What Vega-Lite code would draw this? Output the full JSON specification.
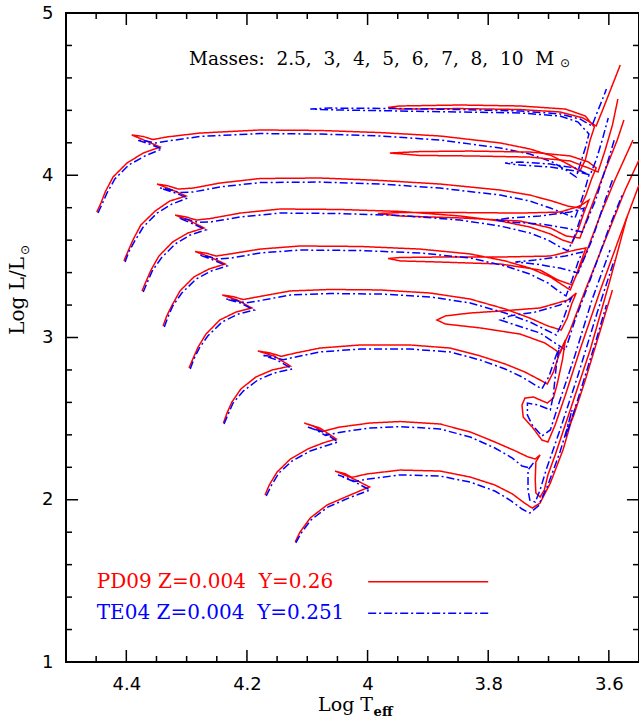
{
"$schema":"https://vega.github.io/schema/vega-lite/v6.json",
"width":573,"height":649,"autosize":"none",
"padding":{"left":66,"top":13,"right":0,"bottom":59},
"background":"white",
"config":{"view":{"stroke":"black","strokeWidth":2},"axis":{"grid":false,"domain":false,"labelFont":"DejaVu Sans","labelFontSize":18,"labelColor":"black","title":null,"labelOverlap":false,"labelFlush":false}},
"datasets":{
"tr":[
{"k":"R10","s":"PD09","i":0,"t":4.449,"l":3.773},{"k":"R10","s":"PD09","i":1,"t":4.442,"l":3.829},{"k":"R10","s":"PD09","i":2,"t":4.435,"l":3.897},{"k":"R10","s":"PD09","i":3,"t":4.422,"l":3.989},{"k":"R10","s":"PD09","i":4,"t":4.399,"l":4.075},{"k":"R10","s":"PD09","i":5,"t":4.372,"l":4.137},{"k":"R10","s":"PD09","i":6,"t":4.344,"l":4.174},{"k":"R10","s":"PD09","i":7,"t":4.367,"l":4.211},{"k":"R10","s":"PD09","i":8,"t":4.391,"l":4.248},{"k":"R10","s":"PD09","i":9,"t":4.372,"l":4.239},{"k":"R10","s":"PD09","i":10,"t":4.356,"l":4.220},{"k":"R10","s":"PD09","i":11,"t":4.333,"l":4.236},{"k":"R10","s":"PD09","i":12,"t":4.278,"l":4.260},{"k":"R10","s":"PD09","i":13,"t":4.178,"l":4.279},{"k":"R10","s":"PD09","i":14,"t":4.079,"l":4.276},{"k":"R10","s":"PD09","i":15,"t":3.979,"l":4.263},{"k":"R10","s":"PD09","i":16,"t":3.880,"l":4.242},{"k":"R10","s":"PD09","i":17,"t":3.780,"l":4.199},{"k":"R10","s":"PD09","i":18,"t":3.731,"l":4.162},{"k":"R10","s":"PD09","i":19,"t":3.694,"l":4.119},{"k":"R10","s":"PD09","i":20,"t":3.668,"l":4.069},{"k":"R10","s":"PD09","i":21,"t":3.648,"l":4.026},{"k":"R10","s":"PD09","i":22,"t":3.639,"l":4.094},{"k":"R10","s":"PD09","i":23,"t":3.631,"l":4.217},{"k":"R10","s":"PD09","i":24,"t":3.624,"l":4.297},{"k":"R10","s":"PD09","i":25,"t":3.639,"l":4.365},{"k":"R10","s":"PD09","i":26,"t":3.672,"l":4.408},{"k":"R10","s":"PD09","i":27,"t":3.747,"l":4.427},{"k":"R10","s":"PD09","i":28,"t":3.847,"l":4.433},{"k":"R10","s":"PD09","i":29,"t":3.946,"l":4.427},{"k":"R10","s":"PD09","i":30,"t":3.966,"l":4.418},{"k":"R10","s":"PD09","i":31,"t":3.946,"l":4.408},{"k":"R10","s":"PD09","i":32,"t":3.847,"l":4.411},{"k":"R10","s":"PD09","i":33,"t":3.747,"l":4.405},{"k":"R10","s":"PD09","i":34,"t":3.681,"l":4.390},{"k":"R10","s":"PD09","i":35,"t":3.643,"l":4.353},{"k":"R10","s":"PD09","i":36,"t":3.621,"l":4.304},{"k":"R10","s":"PD09","i":37,"t":3.609,"l":4.414},{"k":"R10","s":"PD09","i":38,"t":3.596,"l":4.538},{"k":"R10","s":"PD09","i":39,"t":3.581,"l":4.680},
{"k":"B10","s":"TE04","i":0,"t":4.447,"l":3.767},{"k":"B10","s":"TE04","i":1,"t":4.440,"l":3.823},{"k":"B10","s":"TE04","i":2,"t":4.432,"l":3.891},{"k":"B10","s":"TE04","i":3,"t":4.419,"l":3.977},{"k":"B10","s":"TE04","i":4,"t":4.396,"l":4.063},{"k":"B10","s":"TE04","i":5,"t":4.369,"l":4.119},{"k":"B10","s":"TE04","i":6,"t":4.341,"l":4.162},{"k":"B10","s":"TE04","i":7,"t":4.362,"l":4.193},{"k":"B10","s":"TE04","i":8,"t":4.382,"l":4.217},{"k":"B10","s":"TE04","i":9,"t":4.367,"l":4.211},{"k":"B10","s":"TE04","i":10,"t":4.352,"l":4.199},{"k":"B10","s":"TE04","i":11,"t":4.331,"l":4.211},{"k":"B10","s":"TE04","i":12,"t":4.278,"l":4.239},{"k":"B10","s":"TE04","i":13,"t":4.178,"l":4.257},{"k":"B10","s":"TE04","i":14,"t":4.079,"l":4.254},{"k":"B10","s":"TE04","i":15,"t":3.979,"l":4.242},{"k":"B10","s":"TE04","i":16,"t":3.880,"l":4.217},{"k":"B10","s":"TE04","i":17,"t":3.780,"l":4.168},{"k":"B10","s":"TE04","i":18,"t":3.731,"l":4.131},{"k":"B10","s":"TE04","i":19,"t":3.694,"l":4.082},{"k":"B10","s":"TE04","i":20,"t":3.671,"l":4.032},{"k":"B10","s":"TE04","i":21,"t":3.654,"l":3.989},{"k":"B10","s":"TE04","i":22,"t":3.648,"l":4.063},{"k":"B10","s":"TE04","i":23,"t":3.639,"l":4.168},{"k":"B10","s":"TE04","i":24,"t":3.633,"l":4.254},{"k":"B10","s":"TE04","i":25,"t":3.651,"l":4.328},{"k":"B10","s":"TE04","i":26,"t":3.681,"l":4.365},{"k":"B10","s":"TE04","i":27,"t":3.747,"l":4.384},{"k":"B10","s":"TE04","i":28,"t":3.847,"l":4.390},{"k":"B10","s":"TE04","i":29,"t":3.946,"l":4.396},{"k":"B10","s":"TE04","i":30,"t":4.046,"l":4.402},{"k":"B10","s":"TE04","i":31,"t":4.095,"l":4.408},{"k":"B10","s":"TE04","i":32,"t":4.062,"l":4.414},{"k":"B10","s":"TE04","i":33,"t":3.946,"l":4.411},{"k":"B10","s":"TE04","i":34,"t":3.847,"l":4.405},{"k":"B10","s":"TE04","i":35,"t":3.747,"l":4.396},{"k":"B10","s":"TE04","i":36,"t":3.681,"l":4.378},{"k":"B10","s":"TE04","i":37,"t":3.648,"l":4.347},{"k":"B10","s":"TE04","i":38,"t":3.628,"l":4.304},{"k":"B10","s":"TE04","i":39,"t":3.619,"l":4.390},{"k":"B10","s":"TE04","i":40,"t":3.611,"l":4.464},{"k":"B10","s":"TE04","i":41,"t":3.604,"l":4.532},
{"k":"R8","s":"PD09","i":0,"t":4.404,"l":3.472},{"k":"R8","s":"PD09","i":1,"t":4.397,"l":3.533},{"k":"R8","s":"PD09","i":2,"t":4.389,"l":3.601},{"k":"R8","s":"PD09","i":3,"t":4.376,"l":3.693},{"k":"R8","s":"PD09","i":4,"t":4.352,"l":3.780},{"k":"R8","s":"PD09","i":5,"t":4.328,"l":3.841},{"k":"R8","s":"PD09","i":6,"t":4.301,"l":3.872},{"k":"R8","s":"PD09","i":7,"t":4.324,"l":3.909},{"k":"R8","s":"PD09","i":8,"t":4.349,"l":3.946},{"k":"R8","s":"PD09","i":9,"t":4.331,"l":3.935},{"k":"R8","s":"PD09","i":10,"t":4.314,"l":3.915},{"k":"R8","s":"PD09","i":11,"t":4.289,"l":3.921},{"k":"R8","s":"PD09","i":12,"t":4.245,"l":3.952},{"k":"R8","s":"PD09","i":13,"t":4.178,"l":3.980},{"k":"R8","s":"PD09","i":14,"t":4.079,"l":3.983},{"k":"R8","s":"PD09","i":15,"t":3.979,"l":3.968},{"k":"R8","s":"PD09","i":16,"t":3.880,"l":3.946},{"k":"R8","s":"PD09","i":17,"t":3.780,"l":3.909},{"k":"R8","s":"PD09","i":18,"t":3.731,"l":3.878},{"k":"R8","s":"PD09","i":19,"t":3.694,"l":3.841},{"k":"R8","s":"PD09","i":20,"t":3.668,"l":3.810},{"k":"R8","s":"PD09","i":21,"t":3.648,"l":3.798},{"k":"R8","s":"PD09","i":22,"t":3.638,"l":3.878},{"k":"R8","s":"PD09","i":23,"t":3.628,"l":3.983},{"k":"R8","s":"PD09","i":24,"t":3.621,"l":4.045},{"k":"R8","s":"PD09","i":25,"t":3.634,"l":4.082},{"k":"R8","s":"PD09","i":26,"t":3.664,"l":4.119},{"k":"R8","s":"PD09","i":27,"t":3.731,"l":4.143},{"k":"R8","s":"PD09","i":28,"t":3.830,"l":4.149},{"k":"R8","s":"PD09","i":29,"t":3.913,"l":4.146},{"k":"R8","s":"PD09","i":30,"t":3.963,"l":4.137},{"k":"R8","s":"PD09","i":31,"t":3.913,"l":4.122},{"k":"R8","s":"PD09","i":32,"t":3.830,"l":4.119},{"k":"R8","s":"PD09","i":33,"t":3.731,"l":4.112},{"k":"R8","s":"PD09","i":34,"t":3.664,"l":4.088},{"k":"R8","s":"PD09","i":35,"t":3.634,"l":4.045},{"k":"R8","s":"PD09","i":36,"t":3.618,"l":4.020},{"k":"R8","s":"PD09","i":37,"t":3.606,"l":4.156},{"k":"R8","s":"PD09","i":38,"t":3.594,"l":4.310},{"k":"R8","s":"PD09","i":39,"t":3.585,"l":4.470},
{"k":"B8","s":"TE04","i":0,"t":4.402,"l":3.465},{"k":"B8","s":"TE04","i":1,"t":4.396,"l":3.527},{"k":"B8","s":"TE04","i":2,"t":4.386,"l":3.595},{"k":"B8","s":"TE04","i":3,"t":4.372,"l":3.681},{"k":"B8","s":"TE04","i":4,"t":4.349,"l":3.767},{"k":"B8","s":"TE04","i":5,"t":4.324,"l":3.823},{"k":"B8","s":"TE04","i":6,"t":4.298,"l":3.860},{"k":"B8","s":"TE04","i":7,"t":4.319,"l":3.891},{"k":"B8","s":"TE04","i":8,"t":4.344,"l":3.921},{"k":"B8","s":"TE04","i":9,"t":4.328,"l":3.912},{"k":"B8","s":"TE04","i":10,"t":4.311,"l":3.893},{"k":"B8","s":"TE04","i":11,"t":4.289,"l":3.897},{"k":"B8","s":"TE04","i":12,"t":4.245,"l":3.928},{"k":"B8","s":"TE04","i":13,"t":4.178,"l":3.955},{"k":"B8","s":"TE04","i":14,"t":4.079,"l":3.958},{"k":"B8","s":"TE04","i":15,"t":3.979,"l":3.946},{"k":"B8","s":"TE04","i":16,"t":3.880,"l":3.921},{"k":"B8","s":"TE04","i":17,"t":3.780,"l":3.878},{"k":"B8","s":"TE04","i":18,"t":3.731,"l":3.841},{"k":"B8","s":"TE04","i":19,"t":3.697,"l":3.798},{"k":"B8","s":"TE04","i":20,"t":3.672,"l":3.761},{"k":"B8","s":"TE04","i":21,"t":3.656,"l":3.737},{"k":"B8","s":"TE04","i":22,"t":3.648,"l":3.817},{"k":"B8","s":"TE04","i":23,"t":3.639,"l":3.921},{"k":"B8","s":"TE04","i":24,"t":3.633,"l":4.002},{"k":"B8","s":"TE04","i":25,"t":3.656,"l":4.045},{"k":"B8","s":"TE04","i":26,"t":3.697,"l":4.069},{"k":"B8","s":"TE04","i":27,"t":3.747,"l":4.082},{"k":"B8","s":"TE04","i":28,"t":3.772,"l":4.075},{"k":"B8","s":"TE04","i":29,"t":3.747,"l":4.063},{"k":"B8","s":"TE04","i":30,"t":3.697,"l":4.051},{"k":"B8","s":"TE04","i":31,"t":3.656,"l":4.026},{"k":"B8","s":"TE04","i":32,"t":3.631,"l":4.002},{"k":"B8","s":"TE04","i":33,"t":3.621,"l":4.094},{"k":"B8","s":"TE04","i":34,"t":3.611,"l":4.217},{"k":"B8","s":"TE04","i":35,"t":3.601,"l":4.353},
{"k":"R7","s":"PD09","i":0,"t":4.374,"l":3.287},{"k":"R7","s":"PD09","i":1,"t":4.367,"l":3.348},{"k":"R7","s":"PD09","i":2,"t":4.359,"l":3.416},{"k":"R7","s":"PD09","i":3,"t":4.346,"l":3.502},{"k":"R7","s":"PD09","i":4,"t":4.323,"l":3.589},{"k":"R7","s":"PD09","i":5,"t":4.298,"l":3.644},{"k":"R7","s":"PD09","i":6,"t":4.271,"l":3.675},{"k":"R7","s":"PD09","i":7,"t":4.294,"l":3.718},{"k":"R7","s":"PD09","i":8,"t":4.319,"l":3.755},{"k":"R7","s":"PD09","i":9,"t":4.301,"l":3.743},{"k":"R7","s":"PD09","i":10,"t":4.284,"l":3.724},{"k":"R7","s":"PD09","i":11,"t":4.261,"l":3.733},{"k":"R7","s":"PD09","i":12,"t":4.211,"l":3.767},{"k":"R7","s":"PD09","i":13,"t":4.145,"l":3.792},{"k":"R7","s":"PD09","i":14,"t":4.046,"l":3.789},{"k":"R7","s":"PD09","i":15,"t":3.946,"l":3.777},{"k":"R7","s":"PD09","i":16,"t":3.847,"l":3.749},{"k":"R7","s":"PD09","i":17,"t":3.780,"l":3.718},{"k":"R7","s":"PD09","i":18,"t":3.731,"l":3.681},{"k":"R7","s":"PD09","i":19,"t":3.697,"l":3.638},{"k":"R7","s":"PD09","i":20,"t":3.677,"l":3.601},{"k":"R7","s":"PD09","i":21,"t":3.661,"l":3.582},{"k":"R7","s":"PD09","i":22,"t":3.651,"l":3.663},{"k":"R7","s":"PD09","i":23,"t":3.641,"l":3.773},{"k":"R7","s":"PD09","i":24,"t":3.633,"l":3.847},{"k":"R7","s":"PD09","i":25,"t":3.648,"l":3.810},{"k":"R7","s":"PD09","i":26,"t":3.681,"l":3.773},{"k":"R7","s":"PD09","i":27,"t":3.747,"l":3.767},{"k":"R7","s":"PD09","i":28,"t":3.847,"l":3.770},{"k":"R7","s":"PD09","i":29,"t":3.946,"l":3.770},{"k":"R7","s":"PD09","i":30,"t":3.983,"l":3.764},{"k":"R7","s":"PD09","i":31,"t":3.946,"l":3.749},{"k":"R7","s":"PD09","i":32,"t":3.847,"l":3.737},{"k":"R7","s":"PD09","i":33,"t":3.747,"l":3.718},{"k":"R7","s":"PD09","i":34,"t":3.697,"l":3.675},{"k":"R7","s":"PD09","i":35,"t":3.671,"l":3.626},{"k":"R7","s":"PD09","i":36,"t":3.648,"l":3.613},{"k":"R7","s":"PD09","i":37,"t":3.631,"l":3.786},{"k":"R7","s":"PD09","i":38,"t":3.606,"l":4.032},{"k":"R7","s":"PD09","i":39,"t":3.586,"l":4.217},{"k":"R7","s":"PD09","i":40,"t":3.575,"l":4.341},
{"k":"B7","s":"TE04","i":0,"t":4.372,"l":3.280},{"k":"B7","s":"TE04","i":1,"t":4.365,"l":3.342},{"k":"B7","s":"TE04","i":2,"t":4.357,"l":3.410},{"k":"B7","s":"TE04","i":3,"t":4.342,"l":3.490},{"k":"B7","s":"TE04","i":4,"t":4.319,"l":3.576},{"k":"B7","s":"TE04","i":5,"t":4.294,"l":3.632},{"k":"B7","s":"TE04","i":6,"t":4.268,"l":3.663},{"k":"B7","s":"TE04","i":7,"t":4.289,"l":3.700},{"k":"B7","s":"TE04","i":8,"t":4.313,"l":3.737},{"k":"B7","s":"TE04","i":9,"t":4.298,"l":3.728},{"k":"B7","s":"TE04","i":10,"t":4.281,"l":3.710},{"k":"B7","s":"TE04","i":11,"t":4.260,"l":3.712},{"k":"B7","s":"TE04","i":12,"t":4.211,"l":3.743},{"k":"B7","s":"TE04","i":13,"t":4.145,"l":3.767},{"k":"B7","s":"TE04","i":14,"t":4.046,"l":3.764},{"k":"B7","s":"TE04","i":15,"t":3.946,"l":3.752},{"k":"B7","s":"TE04","i":16,"t":3.847,"l":3.724},{"k":"B7","s":"TE04","i":17,"t":3.780,"l":3.687},{"k":"B7","s":"TE04","i":18,"t":3.731,"l":3.644},{"k":"B7","s":"TE04","i":19,"t":3.701,"l":3.601},{"k":"B7","s":"TE04","i":20,"t":3.681,"l":3.558},{"k":"B7","s":"TE04","i":21,"t":3.668,"l":3.533},{"k":"B7","s":"TE04","i":22,"t":3.658,"l":3.613},{"k":"B7","s":"TE04","i":23,"t":3.648,"l":3.724},{"k":"B7","s":"TE04","i":24,"t":3.641,"l":3.798},{"k":"B7","s":"TE04","i":25,"t":3.664,"l":3.773},{"k":"B7","s":"TE04","i":26,"t":3.714,"l":3.749},{"k":"B7","s":"TE04","i":27,"t":3.764,"l":3.737},{"k":"B7","s":"TE04","i":28,"t":3.789,"l":3.724},{"k":"B7","s":"TE04","i":29,"t":3.764,"l":3.712},{"k":"B7","s":"TE04","i":30,"t":3.714,"l":3.700},{"k":"B7","s":"TE04","i":31,"t":3.672,"l":3.675},{"k":"B7","s":"TE04","i":32,"t":3.644,"l":3.650},{"k":"B7","s":"TE04","i":33,"t":3.622,"l":3.847},{"k":"B7","s":"TE04","i":34,"t":3.601,"l":4.094},{"k":"B7","s":"TE04","i":35,"t":3.591,"l":4.217},
{"k":"R6","s":"PD09","i":0,"t":4.339,"l":3.071},{"k":"R6","s":"PD09","i":1,"t":4.333,"l":3.133},{"k":"R6","s":"PD09","i":2,"t":4.324,"l":3.200},{"k":"R6","s":"PD09","i":3,"t":4.311,"l":3.287},{"k":"R6","s":"PD09","i":4,"t":4.288,"l":3.373},{"k":"R6","s":"PD09","i":5,"t":4.263,"l":3.422},{"k":"R6","s":"PD09","i":6,"t":4.236,"l":3.453},{"k":"R6","s":"PD09","i":7,"t":4.261,"l":3.496},{"k":"R6","s":"PD09","i":8,"t":4.286,"l":3.530},{"k":"R6","s":"PD09","i":9,"t":4.268,"l":3.520},{"k":"R6","s":"PD09","i":10,"t":4.251,"l":3.502},{"k":"R6","s":"PD09","i":11,"t":4.228,"l":3.515},{"k":"R6","s":"PD09","i":12,"t":4.178,"l":3.545},{"k":"R6","s":"PD09","i":13,"t":4.112,"l":3.564},{"k":"R6","s":"PD09","i":14,"t":4.012,"l":3.561},{"k":"R6","s":"PD09","i":15,"t":3.913,"l":3.545},{"k":"R6","s":"PD09","i":16,"t":3.830,"l":3.515},{"k":"R6","s":"PD09","i":17,"t":3.772,"l":3.472},{"k":"R6","s":"PD09","i":18,"t":3.731,"l":3.428},{"k":"R6","s":"PD09","i":19,"t":3.697,"l":3.373},{"k":"R6","s":"PD09","i":20,"t":3.677,"l":3.324},{"k":"R6","s":"PD09","i":21,"t":3.664,"l":3.293},{"k":"R6","s":"PD09","i":22,"t":3.654,"l":3.385},{"k":"R6","s":"PD09","i":23,"t":3.644,"l":3.490},{"k":"R6","s":"PD09","i":24,"t":3.638,"l":3.552},{"k":"R6","s":"PD09","i":25,"t":3.656,"l":3.539},{"k":"R6","s":"PD09","i":26,"t":3.697,"l":3.502},{"k":"R6","s":"PD09","i":27,"t":3.780,"l":3.496},{"k":"R6","s":"PD09","i":28,"t":3.880,"l":3.496},{"k":"R6","s":"PD09","i":29,"t":3.946,"l":3.493},{"k":"R6","s":"PD09","i":30,"t":3.966,"l":3.487},{"k":"R6","s":"PD09","i":31,"t":3.946,"l":3.472},{"k":"R6","s":"PD09","i":32,"t":3.880,"l":3.465},{"k":"R6","s":"PD09","i":33,"t":3.780,"l":3.453},{"k":"R6","s":"PD09","i":34,"t":3.714,"l":3.416},{"k":"R6","s":"PD09","i":35,"t":3.684,"l":3.354},{"k":"R6","s":"PD09","i":36,"t":3.661,"l":3.324},{"k":"R6","s":"PD09","i":37,"t":3.639,"l":3.509},{"k":"R6","s":"PD09","i":38,"t":3.614,"l":3.755},{"k":"R6","s":"PD09","i":39,"t":3.590,"l":3.971},{"k":"R6","s":"PD09","i":40,"t":3.560,"l":4.217},
{"k":"B6","s":"TE04","i":0,"t":4.337,"l":3.065},{"k":"B6","s":"TE04","i":1,"t":4.331,"l":3.126},{"k":"B6","s":"TE04","i":2,"t":4.323,"l":3.194},{"k":"B6","s":"TE04","i":3,"t":4.308,"l":3.274},{"k":"B6","s":"TE04","i":4,"t":4.284,"l":3.361},{"k":"B6","s":"TE04","i":5,"t":4.259,"l":3.410},{"k":"B6","s":"TE04","i":6,"t":4.233,"l":3.441},{"k":"B6","s":"TE04","i":7,"t":4.256,"l":3.478},{"k":"B6","s":"TE04","i":8,"t":4.279,"l":3.509},{"k":"B6","s":"TE04","i":9,"t":4.265,"l":3.500},{"k":"B6","s":"TE04","i":10,"t":4.248,"l":3.484},{"k":"B6","s":"TE04","i":11,"t":4.226,"l":3.490},{"k":"B6","s":"TE04","i":12,"t":4.178,"l":3.521},{"k":"B6","s":"TE04","i":13,"t":4.112,"l":3.539},{"k":"B6","s":"TE04","i":14,"t":4.012,"l":3.536},{"k":"B6","s":"TE04","i":15,"t":3.913,"l":3.521},{"k":"B6","s":"TE04","i":16,"t":3.830,"l":3.490},{"k":"B6","s":"TE04","i":17,"t":3.772,"l":3.441},{"k":"B6","s":"TE04","i":18,"t":3.731,"l":3.391},{"k":"B6","s":"TE04","i":19,"t":3.701,"l":3.336},{"k":"B6","s":"TE04","i":20,"t":3.684,"l":3.287},{"k":"B6","s":"TE04","i":21,"t":3.671,"l":3.256},{"k":"B6","s":"TE04","i":22,"t":3.661,"l":3.354},{"k":"B6","s":"TE04","i":23,"t":3.651,"l":3.465},{"k":"B6","s":"TE04","i":24,"t":3.644,"l":3.527},{"k":"B6","s":"TE04","i":25,"t":3.672,"l":3.502},{"k":"B6","s":"TE04","i":26,"t":3.722,"l":3.478},{"k":"B6","s":"TE04","i":27,"t":3.755,"l":3.465},{"k":"B6","s":"TE04","i":28,"t":3.722,"l":3.453},{"k":"B6","s":"TE04","i":29,"t":3.681,"l":3.428},{"k":"B6","s":"TE04","i":30,"t":3.651,"l":3.398},{"k":"B6","s":"TE04","i":31,"t":3.628,"l":3.601},{"k":"B6","s":"TE04","i":32,"t":3.606,"l":3.847},{"k":"B6","s":"TE04","i":33,"t":3.594,"l":3.971},
{"k":"R5","s":"PD09","i":0,"t":4.296,"l":2.812},{"k":"R5","s":"PD09","i":1,"t":4.289,"l":2.874},{"k":"R5","s":"PD09","i":2,"t":4.281,"l":2.941},{"k":"R5","s":"PD09","i":3,"t":4.268,"l":3.021},{"k":"R5","s":"PD09","i":4,"t":4.245,"l":3.108},{"k":"R5","s":"PD09","i":5,"t":4.218,"l":3.157},{"k":"R5","s":"PD09","i":6,"t":4.192,"l":3.182},{"k":"R5","s":"PD09","i":7,"t":4.216,"l":3.231},{"k":"R5","s":"PD09","i":8,"t":4.241,"l":3.262},{"k":"R5","s":"PD09","i":9,"t":4.223,"l":3.252},{"k":"R5","s":"PD09","i":10,"t":4.206,"l":3.234},{"k":"R5","s":"PD09","i":11,"t":4.183,"l":3.250},{"k":"R5","s":"PD09","i":12,"t":4.128,"l":3.287},{"k":"R5","s":"PD09","i":13,"t":4.062,"l":3.296},{"k":"R5","s":"PD09","i":14,"t":3.979,"l":3.293},{"k":"R5","s":"PD09","i":15,"t":3.896,"l":3.274},{"k":"R5","s":"PD09","i":16,"t":3.830,"l":3.237},{"k":"R5","s":"PD09","i":17,"t":3.772,"l":3.176},{"k":"R5","s":"PD09","i":18,"t":3.731,"l":3.120},{"k":"R5","s":"PD09","i":19,"t":3.701,"l":3.071},{"k":"R5","s":"PD09","i":20,"t":3.679,"l":3.046},{"k":"R5","s":"PD09","i":21,"t":3.669,"l":3.120},{"k":"R5","s":"PD09","i":22,"t":3.661,"l":3.213},{"k":"R5","s":"PD09","i":23,"t":3.654,"l":3.274},{"k":"R5","s":"PD09","i":24,"t":3.668,"l":3.231},{"k":"R5","s":"PD09","i":25,"t":3.714,"l":3.182},{"k":"R5","s":"PD09","i":26,"t":3.780,"l":3.163},{"k":"R5","s":"PD09","i":27,"t":3.830,"l":3.151},{"k":"R5","s":"PD09","i":28,"t":3.871,"l":3.133},{"k":"R5","s":"PD09","i":29,"t":3.885,"l":3.108},{"k":"R5","s":"PD09","i":30,"t":3.871,"l":3.083},{"k":"R5","s":"PD09","i":31,"t":3.813,"l":3.059},{"k":"R5","s":"PD09","i":32,"t":3.747,"l":3.021},{"k":"R5","s":"PD09","i":33,"t":3.706,"l":2.966},{"k":"R5","s":"PD09","i":34,"t":3.681,"l":2.904},{"k":"R5","s":"PD09","i":35,"t":3.664,"l":3.046},{"k":"R5","s":"PD09","i":36,"t":3.639,"l":3.293},{"k":"R5","s":"PD09","i":37,"t":3.606,"l":3.601},{"k":"R5","s":"PD09","i":38,"t":3.573,"l":3.909},{"k":"R5","s":"PD09","i":39,"t":3.550,"l":4.094},
{"k":"B5","s":"TE04","i":0,"t":4.294,"l":2.806},{"k":"B5","s":"TE04","i":1,"t":4.288,"l":2.867},{"k":"B5","s":"TE04","i":2,"t":4.279,"l":2.935},{"k":"B5","s":"TE04","i":3,"t":4.265,"l":3.009},{"k":"B5","s":"TE04","i":4,"t":4.241,"l":3.096},{"k":"B5","s":"TE04","i":5,"t":4.214,"l":3.145},{"k":"B5","s":"TE04","i":6,"t":4.188,"l":3.169},{"k":"B5","s":"TE04","i":7,"t":4.211,"l":3.213},{"k":"B5","s":"TE04","i":8,"t":4.235,"l":3.237},{"k":"B5","s":"TE04","i":9,"t":4.220,"l":3.230},{"k":"B5","s":"TE04","i":10,"t":4.203,"l":3.213},{"k":"B5","s":"TE04","i":11,"t":4.182,"l":3.225},{"k":"B5","s":"TE04","i":12,"t":4.128,"l":3.262},{"k":"B5","s":"TE04","i":13,"t":4.062,"l":3.271},{"k":"B5","s":"TE04","i":14,"t":3.979,"l":3.268},{"k":"B5","s":"TE04","i":15,"t":3.896,"l":3.250},{"k":"B5","s":"TE04","i":16,"t":3.830,"l":3.213},{"k":"B5","s":"TE04","i":17,"t":3.772,"l":3.151},{"k":"B5","s":"TE04","i":18,"t":3.731,"l":3.096},{"k":"B5","s":"TE04","i":19,"t":3.704,"l":3.046},{"k":"B5","s":"TE04","i":20,"t":3.687,"l":3.015},{"k":"B5","s":"TE04","i":21,"t":3.677,"l":3.096},{"k":"B5","s":"TE04","i":22,"t":3.669,"l":3.182},{"k":"B5","s":"TE04","i":23,"t":3.662,"l":3.243},{"k":"B5","s":"TE04","i":24,"t":3.681,"l":3.200},{"k":"B5","s":"TE04","i":25,"t":3.722,"l":3.157},{"k":"B5","s":"TE04","i":26,"t":3.764,"l":3.133},{"k":"B5","s":"TE04","i":27,"t":3.780,"l":3.108},{"k":"B5","s":"TE04","i":28,"t":3.755,"l":3.077},{"k":"B5","s":"TE04","i":29,"t":3.714,"l":3.028},{"k":"B5","s":"TE04","i":30,"t":3.689,"l":2.966},{"k":"B5","s":"TE04","i":31,"t":3.672,"l":2.923},{"k":"B5","s":"TE04","i":32,"t":3.656,"l":3.108},{"k":"B5","s":"TE04","i":33,"t":3.631,"l":3.354},{"k":"B5","s":"TE04","i":34,"t":3.601,"l":3.663},{"k":"B5","s":"TE04","i":35,"t":3.578,"l":3.878},
{"k":"R4","s":"PD09","i":0,"t":4.239,"l":2.473},{"k":"R4","s":"PD09","i":1,"t":4.233,"l":2.535},{"k":"R4","s":"PD09","i":2,"t":4.225,"l":2.602},{"k":"R4","s":"PD09","i":3,"t":4.210,"l":2.683},{"k":"R4","s":"PD09","i":4,"t":4.185,"l":2.757},{"k":"R4","s":"PD09","i":5,"t":4.158,"l":2.800},{"k":"R4","s":"PD09","i":6,"t":4.128,"l":2.824},{"k":"R4","s":"PD09","i":7,"t":4.155,"l":2.886},{"k":"R4","s":"PD09","i":8,"t":4.182,"l":2.917},{"k":"R4","s":"PD09","i":9,"t":4.162,"l":2.905},{"k":"R4","s":"PD09","i":10,"t":4.143,"l":2.884},{"k":"R4","s":"PD09","i":11,"t":4.120,"l":2.904},{"k":"R4","s":"PD09","i":12,"t":4.079,"l":2.935},{"k":"R4","s":"PD09","i":13,"t":4.012,"l":2.954},{"k":"R4","s":"PD09","i":14,"t":3.930,"l":2.954},{"k":"R4","s":"PD09","i":15,"t":3.863,"l":2.935},{"k":"R4","s":"PD09","i":16,"t":3.813,"l":2.886},{"k":"R4","s":"PD09","i":17,"t":3.772,"l":2.837},{"k":"R4","s":"PD09","i":18,"t":3.739,"l":2.787},{"k":"R4","s":"PD09","i":19,"t":3.714,"l":2.738},{"k":"R4","s":"PD09","i":20,"t":3.702,"l":2.713},{"k":"R4","s":"PD09","i":21,"t":3.692,"l":2.787},{"k":"R4","s":"PD09","i":22,"t":3.681,"l":2.911},{"k":"R4","s":"PD09","i":23,"t":3.672,"l":2.985},{"k":"R4","s":"PD09","i":24,"t":3.677,"l":2.861},{"k":"R4","s":"PD09","i":25,"t":3.686,"l":2.707},{"k":"R4","s":"PD09","i":26,"t":3.692,"l":2.627},{"k":"R4","s":"PD09","i":27,"t":3.702,"l":2.596},{"k":"R4","s":"PD09","i":28,"t":3.725,"l":2.633},{"k":"R4","s":"PD09","i":29,"t":3.739,"l":2.627},{"k":"R4","s":"PD09","i":30,"t":3.744,"l":2.584},{"k":"R4","s":"PD09","i":31,"t":3.742,"l":2.510},{"k":"R4","s":"PD09","i":32,"t":3.727,"l":2.448},{"k":"R4","s":"PD09","i":33,"t":3.711,"l":2.368},{"k":"R4","s":"PD09","i":34,"t":3.701,"l":2.356},{"k":"R4","s":"PD09","i":35,"t":3.689,"l":2.461},{"k":"R4","s":"PD09","i":36,"t":3.672,"l":2.646},{"k":"R4","s":"PD09","i":37,"t":3.648,"l":2.923},{"k":"R4","s":"PD09","i":38,"t":3.614,"l":3.293},{"k":"R4","s":"PD09","i":39,"t":3.581,"l":3.632},{"k":"R4","s":"PD09","i":40,"t":3.550,"l":3.940},
{"k":"B4","s":"TE04","i":0,"t":4.238,"l":2.467},{"k":"B4","s":"TE04","i":1,"t":4.231,"l":2.529},{"k":"B4","s":"TE04","i":2,"t":4.223,"l":2.596},{"k":"B4","s":"TE04","i":3,"t":4.206,"l":2.670},{"k":"B4","s":"TE04","i":4,"t":4.182,"l":2.738},{"k":"B4","s":"TE04","i":5,"t":4.155,"l":2.781},{"k":"B4","s":"TE04","i":6,"t":4.125,"l":2.806},{"k":"B4","s":"TE04","i":7,"t":4.150,"l":2.861},{"k":"B4","s":"TE04","i":8,"t":4.175,"l":2.892},{"k":"B4","s":"TE04","i":9,"t":4.158,"l":2.882},{"k":"B4","s":"TE04","i":10,"t":4.140,"l":2.863},{"k":"B4","s":"TE04","i":11,"t":4.119,"l":2.880},{"k":"B4","s":"TE04","i":12,"t":4.079,"l":2.911},{"k":"B4","s":"TE04","i":13,"t":4.012,"l":2.929},{"k":"B4","s":"TE04","i":14,"t":3.930,"l":2.929},{"k":"B4","s":"TE04","i":15,"t":3.863,"l":2.911},{"k":"B4","s":"TE04","i":16,"t":3.813,"l":2.861},{"k":"B4","s":"TE04","i":17,"t":3.772,"l":2.806},{"k":"B4","s":"TE04","i":18,"t":3.744,"l":2.757},{"k":"B4","s":"TE04","i":19,"t":3.722,"l":2.707},{"k":"B4","s":"TE04","i":20,"t":3.711,"l":2.683},{"k":"B4","s":"TE04","i":21,"t":3.699,"l":2.763},{"k":"B4","s":"TE04","i":22,"t":3.689,"l":2.874},{"k":"B4","s":"TE04","i":23,"t":3.682,"l":2.941},{"k":"B4","s":"TE04","i":24,"t":3.687,"l":2.830},{"k":"B4","s":"TE04","i":25,"t":3.692,"l":2.646},{"k":"B4","s":"TE04","i":26,"t":3.697,"l":2.553},{"k":"B4","s":"TE04","i":27,"t":3.717,"l":2.584},{"k":"B4","s":"TE04","i":28,"t":3.735,"l":2.596},{"k":"B4","s":"TE04","i":29,"t":3.735,"l":2.522},{"k":"B4","s":"TE04","i":30,"t":3.727,"l":2.461},{"k":"B4","s":"TE04","i":31,"t":3.711,"l":2.393},{"k":"B4","s":"TE04","i":32,"t":3.697,"l":2.430},{"k":"B4","s":"TE04","i":33,"t":3.681,"l":2.615},{"k":"B4","s":"TE04","i":34,"t":3.656,"l":2.892},{"k":"B4","s":"TE04","i":35,"t":3.628,"l":3.231},{"k":"B4","s":"TE04","i":36,"t":3.598,"l":3.539},
{"k":"R3","s":"PD09","i":0,"t":4.170,"l":2.029},{"k":"R3","s":"PD09","i":1,"t":4.163,"l":2.091},{"k":"R3","s":"PD09","i":2,"t":4.150,"l":2.171},{"k":"R3","s":"PD09","i":3,"t":4.128,"l":2.251},{"k":"R3","s":"PD09","i":4,"t":4.099,"l":2.313},{"k":"R3","s":"PD09","i":5,"t":4.074,"l":2.350},{"k":"R3","s":"PD09","i":6,"t":4.052,"l":2.375},{"k":"R3","s":"PD09","i":7,"t":4.079,"l":2.442},{"k":"R3","s":"PD09","i":8,"t":4.105,"l":2.473},{"k":"R3","s":"PD09","i":9,"t":4.089,"l":2.452},{"k":"R3","s":"PD09","i":10,"t":4.075,"l":2.421},{"k":"R3","s":"PD09","i":11,"t":4.046,"l":2.448},{"k":"R3","s":"PD09","i":12,"t":3.996,"l":2.473},{"k":"R3","s":"PD09","i":13,"t":3.946,"l":2.482},{"k":"R3","s":"PD09","i":14,"t":3.880,"l":2.467},{"k":"R3","s":"PD09","i":15,"t":3.830,"l":2.418},{"k":"R3","s":"PD09","i":16,"t":3.789,"l":2.356},{"k":"R3","s":"PD09","i":17,"t":3.755,"l":2.301},{"k":"R3","s":"PD09","i":18,"t":3.734,"l":2.264},{"k":"R3","s":"PD09","i":19,"t":3.722,"l":2.251},{"k":"R3","s":"PD09","i":20,"t":3.714,"l":2.276},{"k":"R3","s":"PD09","i":21,"t":3.721,"l":2.233},{"k":"R3","s":"PD09","i":22,"t":3.722,"l":2.122},{"k":"R3","s":"PD09","i":23,"t":3.721,"l":2.042},{"k":"R3","s":"PD09","i":24,"t":3.714,"l":2.017},{"k":"R3","s":"PD09","i":25,"t":3.707,"l":2.060},{"k":"R3","s":"PD09","i":26,"t":3.701,"l":2.153},{"k":"R3","s":"PD09","i":27,"t":3.689,"l":2.276},{"k":"R3","s":"PD09","i":28,"t":3.664,"l":2.553},{"k":"R3","s":"PD09","i":29,"t":3.631,"l":2.923},{"k":"R3","s":"PD09","i":30,"t":3.598,"l":3.354},{"k":"R3","s":"PD09","i":31,"t":3.570,"l":3.743},
{"k":"B3","s":"TE04","i":0,"t":4.168,"l":2.023},{"k":"B3","s":"TE04","i":1,"t":4.160,"l":2.085},{"k":"B3","s":"TE04","i":2,"t":4.147,"l":2.165},{"k":"B3","s":"TE04","i":3,"t":4.125,"l":2.239},{"k":"B3","s":"TE04","i":4,"t":4.095,"l":2.301},{"k":"B3","s":"TE04","i":5,"t":4.070,"l":2.331},{"k":"B3","s":"TE04","i":6,"t":4.049,"l":2.356},{"k":"B3","s":"TE04","i":7,"t":4.074,"l":2.418},{"k":"B3","s":"TE04","i":8,"t":4.099,"l":2.448},{"k":"B3","s":"TE04","i":9,"t":4.084,"l":2.428},{"k":"B3","s":"TE04","i":10,"t":4.070,"l":2.397},{"k":"B3","s":"TE04","i":11,"t":4.042,"l":2.418},{"k":"B3","s":"TE04","i":12,"t":3.996,"l":2.442},{"k":"B3","s":"TE04","i":13,"t":3.946,"l":2.451},{"k":"B3","s":"TE04","i":14,"t":3.880,"l":2.436},{"k":"B3","s":"TE04","i":15,"t":3.830,"l":2.387},{"k":"B3","s":"TE04","i":16,"t":3.789,"l":2.319},{"k":"B3","s":"TE04","i":17,"t":3.760,"l":2.257},{"k":"B3","s":"TE04","i":18,"t":3.744,"l":2.208},{"k":"B3","s":"TE04","i":19,"t":3.731,"l":2.196},{"k":"B3","s":"TE04","i":20,"t":3.725,"l":2.227},{"k":"B3","s":"TE04","i":21,"t":3.734,"l":2.183},{"k":"B3","s":"TE04","i":22,"t":3.734,"l":2.060},{"k":"B3","s":"TE04","i":23,"t":3.731,"l":1.998},{"k":"B3","s":"TE04","i":24,"t":3.722,"l":1.986},{"k":"B3","s":"TE04","i":25,"t":3.714,"l":2.060},{"k":"B3","s":"TE04","i":26,"t":3.704,"l":2.183},{"k":"B3","s":"TE04","i":27,"t":3.681,"l":2.430},{"k":"B3","s":"TE04","i":28,"t":3.651,"l":2.769},{"k":"B3","s":"TE04","i":29,"t":3.618,"l":3.169},{"k":"B3","s":"TE04","i":30,"t":3.591,"l":3.478},
{"k":"R25","s":"PD09","i":0,"t":4.120,"l":1.740},{"k":"R25","s":"PD09","i":1,"t":4.112,"l":1.801},{"k":"R25","s":"PD09","i":2,"t":4.095,"l":1.888},{"k":"R25","s":"PD09","i":3,"t":4.067,"l":1.968},{"k":"R25","s":"PD09","i":4,"t":4.029,"l":2.029},{"k":"R25","s":"PD09","i":5,"t":3.997,"l":2.079},{"k":"R25","s":"PD09","i":6,"t":4.026,"l":2.134},{"k":"R25","s":"PD09","i":7,"t":4.054,"l":2.177},{"k":"R25","s":"PD09","i":8,"t":4.037,"l":2.160},{"k":"R25","s":"PD09","i":9,"t":4.026,"l":2.138},{"k":"R25","s":"PD09","i":10,"t":4.001,"l":2.159},{"k":"R25","s":"PD09","i":11,"t":3.946,"l":2.183},{"k":"R25","s":"PD09","i":12,"t":3.880,"l":2.177},{"k":"R25","s":"PD09","i":13,"t":3.830,"l":2.140},{"k":"R25","s":"PD09","i":14,"t":3.789,"l":2.091},{"k":"R25","s":"PD09","i":15,"t":3.760,"l":2.036},{"k":"R25","s":"PD09","i":16,"t":3.740,"l":1.980},{"k":"R25","s":"PD09","i":17,"t":3.727,"l":1.949},{"k":"R25","s":"PD09","i":18,"t":3.714,"l":1.980},{"k":"R25","s":"PD09","i":19,"t":3.697,"l":2.103},{"k":"R25","s":"PD09","i":20,"t":3.676,"l":2.307},{"k":"R25","s":"PD09","i":21,"t":3.664,"l":2.461},{"k":"R25","s":"PD09","i":22,"t":3.654,"l":2.584},{"k":"R25","s":"PD09","i":23,"t":3.661,"l":2.504},{"k":"R25","s":"PD09","i":24,"t":3.668,"l":2.430},{"k":"R25","s":"PD09","i":25,"t":3.658,"l":2.522},{"k":"R25","s":"PD09","i":26,"t":3.639,"l":2.738},{"k":"R25","s":"PD09","i":27,"t":3.614,"l":3.046},{"k":"R25","s":"PD09","i":28,"t":3.594,"l":3.293},
{"k":"B25","s":"TE04","i":0,"t":4.119,"l":1.734},{"k":"B25","s":"TE04","i":1,"t":4.110,"l":1.795},{"k":"B25","s":"TE04","i":2,"t":4.094,"l":1.875},{"k":"B25","s":"TE04","i":3,"t":4.066,"l":1.955},{"k":"B25","s":"TE04","i":4,"t":4.027,"l":2.017},{"k":"B25","s":"TE04","i":5,"t":3.996,"l":2.060},{"k":"B25","s":"TE04","i":6,"t":4.021,"l":2.109},{"k":"B25","s":"TE04","i":7,"t":4.049,"l":2.153},{"k":"B25","s":"TE04","i":8,"t":4.034,"l":2.135},{"k":"B25","s":"TE04","i":9,"t":4.021,"l":2.113},{"k":"B25","s":"TE04","i":10,"t":3.999,"l":2.128},{"k":"B25","s":"TE04","i":11,"t":3.946,"l":2.153},{"k":"B25","s":"TE04","i":12,"t":3.880,"l":2.146},{"k":"B25","s":"TE04","i":13,"t":3.830,"l":2.109},{"k":"B25","s":"TE04","i":14,"t":3.789,"l":2.054},{"k":"B25","s":"TE04","i":15,"t":3.764,"l":1.998},{"k":"B25","s":"TE04","i":16,"t":3.744,"l":1.943},{"k":"B25","s":"TE04","i":17,"t":3.731,"l":1.918},{"k":"B25","s":"TE04","i":18,"t":3.717,"l":1.962},{"k":"B25","s":"TE04","i":19,"t":3.701,"l":2.091},{"k":"B25","s":"TE04","i":20,"t":3.681,"l":2.294},{"k":"B25","s":"TE04","i":21,"t":3.669,"l":2.442},{"k":"B25","s":"TE04","i":22,"t":3.661,"l":2.553},{"k":"B25","s":"TE04","i":23,"t":3.668,"l":2.461},{"k":"B25","s":"TE04","i":24,"t":3.672,"l":2.381},{"k":"B25","s":"TE04","i":25,"t":3.661,"l":2.504},{"k":"B25","s":"TE04","i":26,"t":3.644,"l":2.707},{"k":"B25","s":"TE04","i":27,"t":3.621,"l":2.985},{"k":"B25","s":"TE04","i":28,"t":3.604,"l":3.200}
],
"xt":[{"v":3.6},{"v":3.8},{"v":4.0},{"v":4.2},{"v":4.4}],
"xm":[{"v":3.65},{"v":3.7},{"v":3.75},{"v":3.85},{"v":3.9},{"v":3.95},{"v":4.05},{"v":4.1},{"v":4.15},{"v":4.25},{"v":4.3},{"v":4.35},{"v":4.45}],
"yt":[{"v":2},{"v":3},{"v":4}],
"ym":[{"v":1.2},{"v":1.4},{"v":1.6},{"v":1.8},{"v":2.2},{"v":2.4},{"v":2.6},{"v":2.8},{"v":3.2},{"v":3.4},{"v":3.6},{"v":3.8},{"v":4.2},{"v":4.4},{"v":4.6},{"v":4.8}],
"lg":[{"s":"PD09","t1":3.999,"t2":3.800,"l":1.495},{"s":"TE04","t1":3.999,"t2":3.800,"l":1.300}],
"lt":[{"s":"PD09","t":4.449,"l":1.495,"txt":"PD09 Z=0.004\u00a0 Y=0.26"},{"s":"TE04","t":4.449,"l":1.300,"txt":"TE04 Z=0.004\u00a0 Y=0.251"}]
},
"layer":[
{"data":{"name":"tr"},"mark":{"type":"line","strokeWidth":1.5},
 "encoding":{
  "x":{"field":"t","type":"quantitative","scale":{"domain":[3.55,4.5],"reverse":true,"nice":false,"zero":false},
   "axis":{"orient":"bottom","values":[3.6,3.8,4,4.2,4.4],"ticks":false,"tickSize":0,"labelPadding":13,"labelExpr":"datum.value+''"}},
  "y":{"field":"l","type":"quantitative","scale":{"domain":[1,5],"nice":false,"zero":false},
   "axis":{"orient":"left","values":[1,2,3,4,5],"ticks":false,"tickSize":0,"labelPadding":13,"labelExpr":"datum.value+''"}},
  "color":{"field":"s","type":"nominal","scale":{"domain":["PD09","TE04"],"range":["#ff0000","#0000ff"]},"legend":null},
  "strokeDash":{"field":"s","type":"nominal","scale":{"domain":["PD09","TE04"],"range":[[1,0],[8,3,2,3]]},"legend":null},
  "detail":{"field":"k"},
  "order":{"field":"i","type":"quantitative"}
 }},
{"data":{"name":"xt"},"mark":{"type":"rule"},
 "encoding":{"x":{"field":"v","type":"quantitative"},"y":{"datum":1,"type":"quantitative"},"y2":{"datum":1.074},"color":{"value":"#000000"},"strokeWidth":{"value":1.5},"opacity":{"value":1}}},
{"data":{"name":"xt"},"mark":{"type":"rule"},
 "encoding":{"x":{"field":"v","type":"quantitative"},"y":{"datum":5,"type":"quantitative"},"y2":{"datum":4.926},"color":{"value":"#000000"},"strokeWidth":{"value":1.5},"opacity":{"value":1}}},
{"data":{"name":"xm"},"mark":{"type":"rule"},
 "encoding":{"x":{"field":"v","type":"quantitative"},"y":{"datum":1,"type":"quantitative"},"y2":{"datum":1.037},"color":{"value":"#000000"},"strokeWidth":{"value":1.5},"opacity":{"value":1}}},
{"data":{"name":"xm"},"mark":{"type":"rule"},
 "encoding":{"x":{"field":"v","type":"quantitative"},"y":{"datum":5,"type":"quantitative"},"y2":{"datum":4.963},"color":{"value":"#000000"},"strokeWidth":{"value":1.5},"opacity":{"value":1}}},
{"data":{"name":"yt"},"mark":{"type":"rule"},
 "encoding":{"y":{"field":"v","type":"quantitative"},"x":{"datum":4.5,"type":"quantitative"},"x2":{"datum":4.48},"color":{"value":"#000000"},"strokeWidth":{"value":1.5},"opacity":{"value":1}}},
{"data":{"name":"yt"},"mark":{"type":"rule"},
 "encoding":{"y":{"field":"v","type":"quantitative"},"x":{"datum":3.55,"type":"quantitative"},"x2":{"datum":3.57},"color":{"value":"#000000"},"strokeWidth":{"value":1.5},"opacity":{"value":1}}},
{"data":{"name":"ym"},"mark":{"type":"rule"},
 "encoding":{"y":{"field":"v","type":"quantitative"},"x":{"datum":4.5,"type":"quantitative"},"x2":{"datum":4.49},"color":{"value":"#000000"},"strokeWidth":{"value":1.5},"opacity":{"value":1}}},
{"data":{"name":"ym"},"mark":{"type":"rule"},
 "encoding":{"y":{"field":"v","type":"quantitative"},"x":{"datum":3.55,"type":"quantitative"},"x2":{"datum":3.56},"color":{"value":"#000000"},"strokeWidth":{"value":1.5},"opacity":{"value":1}}},
{"data":{"name":"lg"},"mark":{"type":"rule","strokeWidth":1.5},
 "encoding":{
  "x":{"field":"t1","type":"quantitative"},
  "x2":{"field":"t2"},
  "y":{"field":"l","type":"quantitative"},
  "color":{"field":"s","type":"nominal","scale":{"domain":["PD09","TE04"],"range":["#ff0000","#0000ff"]},"legend":null},
  "strokeDash":{"field":"s","type":"nominal","scale":{"domain":["PD09","TE04"],"range":[[1,0],[8,3,2,3]]},"legend":null}
 }},
{"data":{"name":"lt"},"mark":{"type":"text","align":"left","baseline":"middle","font":"DejaVu Serif","fontSize":20},
 "encoding":{
  "x":{"field":"t","type":"quantitative"},
  "y":{"field":"l","type":"quantitative"},
  "text":{"field":"txt"},
  "color":{"field":"s","type":"nominal","scale":{"domain":["PD09","TE04"],"range":["#ff0000","#0000ff"]},"legend":null}
 }},
{"data":{"values":[{"t":4.296,"l":4.7165,"txt":"Masses:\u00a0 2.5,\u00a0 3,\u00a0 4,\u00a0 5,\u00a0 6,\u00a0 7,\u00a0 8,\u00a0 10\u00a0 M"}]},"mark":{"type":"text","align":"left","baseline":"middle","font":"DejaVu Serif","fontSize":18.5,"color":"black"},
 "encoding":{"x":{"field":"t","type":"quantitative"},"y":{"field":"l","type":"quantitative"},"text":{"field":"txt"}}},
{"data":{"values":[{"t":3.681,"l":4.692,"txt":"⊙"}]},"mark":{"type":"text","align":"left","baseline":"middle","font":"DejaVu Sans","fontSize":12,"color":"black"},
 "encoding":{"x":{"field":"t","type":"quantitative"},"y":{"field":"l","type":"quantitative"},"text":{"field":"txt"}}},
{"data":{"values":[{"t":3.991,"l":0.735,"txt":"Log T"}]},"mark":{"type":"text","align":"right","baseline":"middle","font":"DejaVu Serif","fontSize":19,"color":"black"},
 "encoding":{"x":{"field":"t","type":"quantitative"},"y":{"field":"l","type":"quantitative"},"text":{"field":"txt"}}},
{"data":{"values":[{"t":3.990,"l":0.692,"txt":"eff"}]},"mark":{"type":"text","align":"left","baseline":"middle","font":"DejaVu Serif","fontSize":13,"fontWeight":"bold","color":"black"},
 "encoding":{"x":{"field":"t","type":"quantitative"},"y":{"field":"l","type":"quantitative"},"text":{"field":"txt"}}},
{"data":{"values":[{"t":4.580,"l":3.256,"txt":"Log L/L"}]},"mark":{"type":"text","align":"center","baseline":"middle","angle":270,"font":"DejaVu Serif","fontSize":20,"color":"black"},
 "encoding":{"x":{"field":"t","type":"quantitative"},"y":{"field":"l","type":"quantitative"},"text":{"field":"txt"}}},
{"data":{"values":[{"t":4.568,"l":3.540,"txt":"⊙"}]},"mark":{"type":"text","align":"center","baseline":"middle","angle":270,"font":"DejaVu Sans","fontSize":12,"color":"black"},
 "encoding":{"x":{"field":"t","type":"quantitative"},"y":{"field":"l","type":"quantitative"},"text":{"field":"txt"}}}
]
}
